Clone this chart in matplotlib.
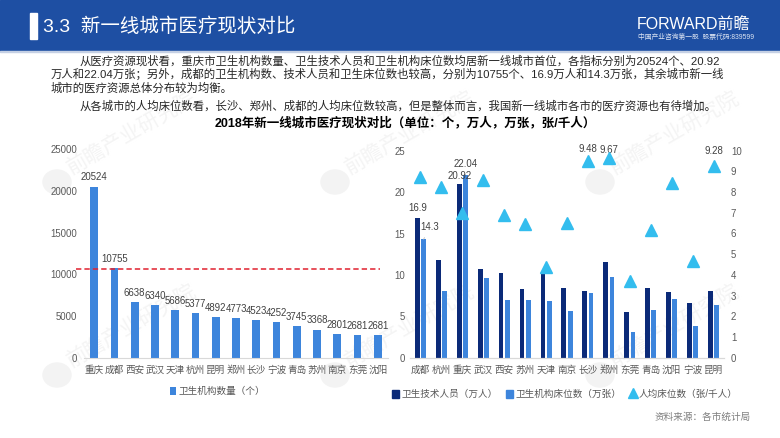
import matplotlib
matplotlib.use("Agg")
import matplotlib.pyplot as plt
from matplotlib.patches import Rectangle, Ellipse
from matplotlib.lines import Line2D

plt.rcParams['font.family'] = ['Liberation Sans', 'Noto Sans CJK SC', 'DejaVu Sans']

W, H = 780, 438
GRAY = "#595959"

# left chart
cities_left = ["重庆", "成都", "西安", "武汉", "天津", "杭州", "昆明", "郑州", "长沙", "宁波", "青岛", "苏州", "南京", "东莞", "沈阳"]
institutions = [20524, 10755, 6638, 6340, 5686, 5377, 4892, 4773, 4523, 4252, 3745, 3368, 2801, 2681, 2681]
avg_institutions = 10600

# right chart
cities_right = ["成都", "杭州", "重庆", "武汉", "西安", "苏州", "天津", "南京", "长沙", "郑州", "东莞", "青岛", "沈阳", "宁波", "昆明"]
tech_staff = [16.9, 11.8, 20.92, 10.7, 10.2, 8.3, 10.4, 8.4, 8.1, 11.5, 5.5, 8.4, 7.9, 6.6, 8.0]
beds = [14.3, 8.1, 22.04, 9.6, 7.0, 7.0, 6.85, 5.6, 7.8, 9.8, 3.1, 5.8, 7.1, 3.8, 6.4]
beds_per_k = [8.74, 8.25, 7.0, 8.6, 6.9, 6.45, 4.4, 6.5, 9.48, 9.67, 3.7, 6.15, 8.45, 4.65, 9.28]

body_lines = [
    (80, 61, "从医疗资源现状看，重庆市卫生机构数量、卫生技术人员和卫生机构床位数均居新一线城市首位，各指标分别为20524个、20.92"),
    (51, 74, "万人和22.04万张；另外，成都的卫生机构数、技术人员和卫生床位数也较高，分别为10755个、16.9万人和14.3万张，其余城市新一线"),
    (51, 88, "城市的医疗资源总体分布较为均衡。"),
    (80, 106, "从各城市的人均床位数看，长沙、郑州、成都的人均床位数较高，但是整体而言，我国新一线城市各市的医疗资源也有待增加。"),
]


def ax_px(fig, left, top, right, bottom):
    return fig.add_axes([left / W, 1 - bottom / H, (right - left) / W, (bottom - top) / H])


def ftext(x, y, s, **kw):
    fig.text(x / W, 1 - y / H, s, **kw)


fig = plt.figure(figsize=(W / 100, H / 100), dpi=100, facecolor="white")

# header band
fig.add_artist(Rectangle((0, 1 - 51 / H), 1, 51 / H, transform=fig.transFigure, color="#1E4FA3"))
fig.add_artist(Rectangle((0, 1 - 52 / H), 1, 1 / H, transform=fig.transFigure, color="#C5D0E4"))
fig.add_artist(Rectangle((30 / W, 1 - 39 / H), 6.5 / W, 26 / H, transform=fig.transFigure, color="white"))
ftext(43, 27, "3.3  新一线城市医疗现状对比", color="white", fontsize=14, va="center")
ftext(637, 24, "FORWARD前瞻", color="white", fontsize=11.5, va="center")
ftext(638, 37, "中国产业咨询第一股  股票代码:839599", color="#DDE5F3", fontsize=4.9, va="center")

# watermark, behind the charts
for wx in (57, 335, 600):
    for wy in (182, 375):
        fig.add_artist(Ellipse((wx / W, 1 - wy / H), 28 / W, 24 / H, transform=fig.transFigure,
                               color="#F3F3F3", zorder=-2))
        ftext(wx + 12, wy - 12, "前瞻产业研究院", color="#F4F4F4", fontsize=15, rotation=30,
              ha="left", va="center", rotation_mode="anchor", zorder=-2)

for x, y, s in body_lines:
    ftext(x, y, s, color="#262626", fontsize=8.2, va="center")
ftext(215, 123, "2018年新一线城市医疗现状对比（单位：个，万人，万张，张/千人）", color="black",
      fontsize=9, fontweight="bold", va="center")

# left chart
ax = ax_px(fig, 84, 149.3, 388, 357.7)
ax.patch.set_alpha(0)
xs = range(len(cities_left))
ax.bar(xs, institutions, width=0.38, color="#3D85DC", label="卫生机构数量（个）")
for x, v in zip(xs, institutions):
    ax.annotate(str(v), (x, v), xytext=(0, 3), textcoords="offset points", ha="center", va="bottom",
                fontsize=6.9, color="#404040")
ax.hlines(avg_institutions, -0.89, 14.1, color="#E0212F", ls=(0, (3.5, 2)), lw=1.1, clip_on=False)
ax.set_xlim(-0.5, 14.5)
ax.set_ylim(0, 25000)
ax.set_yticks([0, 5000, 10000, 15000, 20000, 25000])
ax.set_xticks(list(xs), cities_left)
ax.tick_params(length=0, labelsize=6.9, labelcolor=GRAY)
ax.tick_params(axis="x", pad=5)
ax.tick_params(axis="y", pad=5)
for s in ("top", "right", "left"):
    ax.spines[s].set_visible(False)
ax.spines["bottom"].set_color("#D9D9D9")
ax.legend(loc="center", bbox_to_anchor=(0.44, -0.16), frameon=False, fontsize=6.9, labelcolor=GRAY,
          handlelength=0.65, handleheight=0.9, handletextpad=0.3)

# right chart
ax2 = ax_px(fig, 410, 150.7, 724, 357.7)
ax2.patch.set_alpha(0)
xr = list(range(len(cities_right)))
ax2.bar([x - 0.15 for x in xr], tech_staff, width=0.23, color="#0B2A78")
ax2.bar([x + 0.15 for x in xr], beds, width=0.23, color="#3D85DC")
ax2.set_xlim(-0.5, 14.5)
ax2.set_ylim(0, 25)
ax2.set_xticks(xr, cities_right)
ax2.tick_params(length=0, labelsize=6.9, labelcolor=GRAY)
ax2.tick_params(axis="x", pad=5)
ax2.tick_params(axis="y", pad=3.6)

ax3 = ax2.twinx()
ax3.patch.set_alpha(0)
ax3.plot(xr, beds_per_k, ls="none", marker="^", ms=8.5, color="#33BDEE", zorder=5)
ax3.set_ylim(0, 10)
ax3.set_yticks(range(11))
ax3.tick_params(length=0, labelsize=6.9, labelcolor=GRAY, pad=5)
for a in (ax2, ax3):
    for s in ("top", "right", "left"):
        a.spines[s].set_visible(False)
    a.spines["bottom"].set_color("#D9D9D9")

lab = dict(fontsize=6.9, color="#404040", textcoords="offset pixels", ha="center", va="bottom")
ax2.annotate("16.9", (-0.15, tech_staff[0]), xytext=(0, 5), **lab)
ax2.annotate("14.3", (0.15, beds[0]), xytext=(6, 7), arrowprops=dict(arrowstyle="-", color="#BFBFBF", lw=0.6), **lab)
ax2.annotate("20.92", (1.85, tech_staff[2]), xytext=(0, 3), **lab)
ax2.annotate("22.04", (2.15, beds[2]), xytext=(0, 6), **lab)
for i, dy in ((8, 7), (9, 3), (14, 10)):
    ax3.annotate(f"{beds_per_k[i]:.2f}", (xr[i], beds_per_k[i]), xytext=(0, dy), **lab)

handles = [
    Rectangle((0, 0), 1, 1, color="#0B2A78"),
    Rectangle((0, 0), 1, 1, color="#3D85DC"),
    Line2D([], [], ls="none", marker="^", ms=7, color="#33BDEE"),
]
ax3.legend(handles, ["卫生技术人员（万人）", "卫生机构床位数（万张）", "人均床位数（张/千人）"], loc="center",
           bbox_to_anchor=(0.494, -0.175), ncol=3, frameon=False, fontsize=6.9, labelcolor=GRAY,
           handlelength=0.65, handleheight=0.9, handletextpad=0.3, columnspacing=0.9)

ftext(655, 417, "资料来源：各市统计局", color="#7F7F7F", fontsize=6.9, va="center")

fig.savefig("out.png", dpi=100)
